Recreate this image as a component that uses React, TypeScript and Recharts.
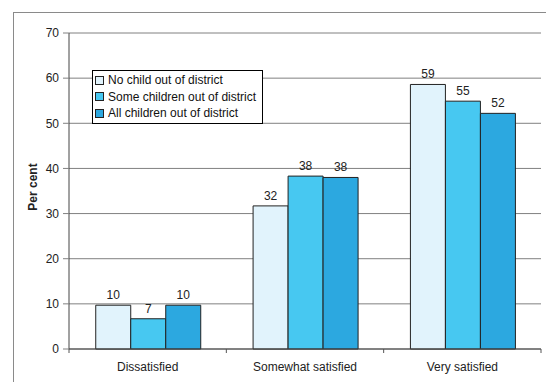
import React from 'react';
import {
  BarChart,
  Bar,
  XAxis,
  YAxis,
  CartesianGrid,
  Legend,
  LabelList,
} from 'recharts';

// Satisfaction categories on the x axis
const categories = ['Dissatisfied', 'Somewhat satisfied', 'Very satisfied'];

// Per cent of respondents in each group
const noChildOut = [9.7, 31.7, 58.6];
const someChildrenOut = [6.7, 38.3, 54.9];
const allChildrenOut = [9.7, 38.0, 52.2];

const seriesNames = [
  'No child out of district',
  'Some children out of district',
  'All children out of district',
];
const seriesColors = ['#E1F3FC', '#47C8F1', '#2CA8E0'];

const yTicks = [0, 10, 20, 30, 40, 50, 60, 70];

const data = categories.map((name, i) => ({
  name,
  s0: noChildOut[i],
  s1: someChildrenOut[i],
  s2: allChildrenOut[i],
}));

const FONT = '"Liberation Sans", Arial, sans-serif';

// Category label plus tick marks at the band edges
const CategoryTick = (props: any) => {
  const { x, y, payload, index, visibleTicksCount } = props;
  const half = payload?.offset ?? 0;
  const last = index === (visibleTicksCount ?? 3) - 1;
  return (
    <g>
      <line x1={x - half} x2={x - half} y1={y} y2={y + 4} stroke="#555" />
      {last && <line x1={x + half} x2={x + half} y1={y} y2={y + 4} stroke="#555" />}
      <text x={x} y={y + 22} textAnchor="middle" fontSize={12} fill="#222" fontFamily={FONT}>
        {payload.value}
      </text>
    </g>
  );
};

const LegendBox = (props: any) => {
  const items = [...(props.payload || [])].sort(
    (a: any, b: any) => seriesNames.indexOf(a.value) - seriesNames.indexOf(b.value)
  );
  return (
    <div
      style={{
        border: '1px solid #000',
        background: '#fff',
        padding: '1px 6px 1px 2px',
        fontFamily: FONT,
        fontSize: 12,
        color: '#111',
      }}
    >
      {items.map((it: any) => (
        <div key={it.value} style={{ display: 'flex', alignItems: 'center', height: 16.6 }}>
          <span
            style={{
              display: 'inline-block',
              width: 7,
              height: 7,
              background: it.color,
              border: '1px solid #222',
              marginRight: 4,
            }}
          />
          <span style={{ whiteSpace: 'nowrap' }}>{it.value}</span>
        </div>
      ))}
    </div>
  );
};

const YLabel = (props: any) => {
  const vb = props.viewBox || { x: 0, y: 0, width: 0, height: 0 };
  const cx = vb.x + 33;
  const cy = vb.y + vb.height / 2 - 4;
  return (
    <text
      x={cx}
      y={cy}
      transform={`rotate(-90, ${cx}, ${cy})`}
      textAnchor="middle"
      dominantBaseline="central"
      fontSize={12}
      fontWeight="bold"
      fill="#222"
      fontFamily={FONT}
    >
      Per cent
    </text>
  );
};

export default function App() {
  return (
    <div style={{ position: 'absolute', left: 0, top: 0, width: 546, height: 382, overflow: 'hidden', background: '#fff' }}>
      <div
        style={{
          position: 'absolute',
          left: 13,
          top: 12,
          width: 600,
          height: 400,
          border: '1px solid #8a8a8a',
          pointerEvents: 'none',
        }}
      />
      <BarChart
        width={546}
        height={382}
        data={data}
        margin={{ top: 33, right: 5, bottom: 13, left: 0 }}
        barCategoryGap="17%"
        barGap={0}
        style={{ position: 'absolute', left: 0, top: 0 }}
      >
        <CartesianGrid vertical={false} stroke="#808080" />
        <XAxis
          dataKey="name"
          height={20}
          tickLine={false}
          tickSize={0}
          tickMargin={0}
          axisLine={{ stroke: '#444' }}
          tick={<CategoryTick />}
          interval={0}
        />
        <YAxis
          domain={[0, 70]}
          ticks={yTicks}
          width={69}
          tickSize={6}
          tickMargin={4}
          axisLine={{ stroke: '#444' }}
          tickLine={{ stroke: '#808080' }}
          tick={{ fontSize: 12, fill: '#222', fontFamily: FONT }}
          label={<YLabel />}
        />
        <YAxis yAxisId="r" orientation="right" width={0} tick={false} tickLine={false} axisLine={{ stroke: '#999' }} />
        <Legend
          layout="horizontal"
          verticalAlign="middle"
          align="center"
          content={<LegendBox />}
          wrapperStyle={{ position: 'absolute', left: 92, top: 70, width: 'auto', height: 'auto' }}
        />
        {['s0', 's1', 's2'].map((k, i) => (
          <Bar
            key={k}
            dataKey={k}
            name={seriesNames[i]}
            fill={seriesColors[i]}
            stroke="#222"
            strokeWidth={1}
            isAnimationActive={false}
          >
            <LabelList
              dataKey={k}
              position="top"
              offset={6}
              formatter={(v: any) => Math.round(Number(v))}
              style={{ fontSize: 12, fill: '#222', fontFamily: FONT }}
            />
          </Bar>
        ))}
      </BarChart>
    </div>
  );
}
